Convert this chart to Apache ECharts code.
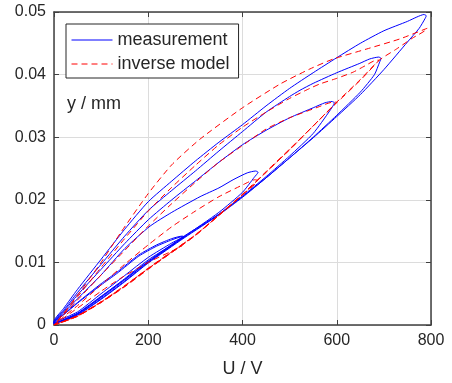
<!DOCTYPE html>
<html>
<head>
<meta charset="utf-8">
<script src="https://cdn.jsdelivr.net/npm/echarts@6/dist/echarts.min.js"></script>
<style>
html, body { margin: 0; padding: 0; background: #fff; }
#chart { width: 452px; height: 383px; }
</style>
</head>
<body>
<div id="chart"></div>
<script>
// axis ticks
var xTicks = [0, 200, 400, 600, 800];
var yTicks = [0, 0.01, 0.02, 0.03, 0.04, 0.05];

// measurement loops: [U, y], ascending then descending
var measUp800 = [[0,0.0003],[25,0.0008],[50,0.0018],[100,0.0044],[150,0.0072],[200,0.0102],[276,0.0142],[350,0.0177],[400,0.0205],[450,0.0235],[500,0.0267],[550,0.0299],[600,0.0333],[650,0.0368],[700,0.0408],[750,0.0452],[775,0.0474],[787,0.0489],[790,0.0494]];
var measDown800 = [[785,0.0496],[770,0.0492],[750,0.0485],[700,0.0470],[650,0.0450],[600,0.0427],[550,0.0403],[500,0.0378],[450,0.0350],[400,0.0320],[350,0.0292],[300,0.0262],[250,0.0230],[200,0.0197],[150,0.0153],[100,0.0105],[50,0.0057],[20,0.0026],[0,0.0006]];
var measUp700 = [[0,0.0002],[50,0.0016],[100,0.0041],[150,0.0069],[200,0.0099],[276,0.0139],[350,0.0176],[400,0.0204],[450,0.0235],[500,0.0267],[550,0.0300],[600,0.0335],[650,0.0372],[680,0.0400],[691,0.0420],[694,0.0426]];
var measDown700 = [[689,0.0428],[670,0.0425],[649,0.0418],[600,0.0403],[550,0.0386],[522,0.0375],[500,0.0365],[450,0.0340],[400,0.0309],[350,0.0278],[300,0.0246],[250,0.0215],[200,0.0183],[150,0.0142],[100,0.0097],[50,0.0052],[20,0.0023],[0,0.0005]];
var measUp600 = [[0,0.0002],[50,0.0017],[100,0.0042],[150,0.0070],[200,0.0100],[276,0.0140],[350,0.0177],[400,0.0206],[450,0.0237],[500,0.0270],[550,0.0306],[585,0.0342],[595,0.0355]];
var measDown600 = [[590,0.0357],[575,0.0355],[550,0.0347],[500,0.0331],[450,0.0311],[400,0.0288],[350,0.0260],[300,0.0230],[250,0.0200],[200,0.0168],[150,0.0130],[100,0.0089],[50,0.0048],[20,0.0021],[0,0.0004]];
var measUp440 = [[0,0.0002],[50,0.0019],[100,0.0046],[150,0.0073],[200,0.0101],[276,0.0141],[350,0.0180],[400,0.0212],[425,0.0236],[433,0.0244]];
var measDown440 = [[428,0.0246],[410,0.0243],[380,0.0232],[350,0.0219],[310,0.0205],[250,0.0180],[204,0.0158],[150,0.0122],[100,0.0080],[50,0.0042],[20,0.0019],[0,0.0004]];
var measUp280a = [[0,0.0002],[50,0.0018],[100,0.0045],[150,0.0074],[200,0.0104],[250,0.0128],[270,0.0138],[276,0.0141]];
var measDown280a = [[272,0.0142],[250,0.0138],[218,0.0128],[180,0.0112],[133,0.0084],[100,0.0066],[50,0.0036],[20,0.0017],[0,0.0004]];
var measUp280b = [[0,0.0003],[50,0.0021],[100,0.0050],[150,0.0079],[200,0.0108],[250,0.0131],[270,0.0139],[276,0.0141]];
var measDown280b = [[272,0.0141],[250,0.0136],[218,0.0126],[180,0.0110],[133,0.0082],[100,0.0064],[50,0.0035],[20,0.0016],[0,0.0004]];

// inverse model loops
var modelUp800 = [[0,0],[50,0.0014],[100,0.0036],[150,0.0062],[200,0.0090],[250,0.0116],[300,0.0143],[350,0.0175],[400,0.0208],[450,0.0244],[500,0.0280],[550,0.0318],[600,0.0356],[650,0.0392],[690,0.0423],[727,0.0441],[760,0.0458],[792,0.0474]];
var modelDown800 = [[792,0.0475],[734,0.0457],[664,0.0441],[593,0.0425],[543,0.0409],[480,0.0385],[400,0.0347],[310,0.0297],[250,0.0256],[200,0.0210],[141,0.0147],[100,0.0100],[50,0.0048],[20,0.0018],[0,0]];
var modelUp700 = [[0,0],[50,0.0014],[100,0.0037],[150,0.0062],[200,0.0090],[250,0.0117],[300,0.0144],[350,0.0175],[400,0.0208],[450,0.0244],[500,0.0280],[550,0.0318],[600,0.0355],[650,0.0391],[690,0.0423]];
var modelDown700 = [[684,0.0423],[660,0.0414],[635,0.0404],[600,0.0394],[564,0.0385],[543,0.0378],[500,0.0362],[450,0.0340],[400,0.0316],[350,0.0288],[300,0.0255],[250,0.0220],[200,0.0182],[150,0.0138],[100,0.0092],[50,0.0045],[20,0.0018],[0,0]];
var modelUp600 = [[0,0],[50,0.0015],[100,0.0036],[150,0.0061],[200,0.0089],[250,0.0116],[300,0.0143],[350,0.0176],[400,0.0209],[450,0.0245],[500,0.0281],[550,0.0318],[600,0.0356]];
var modelDown600 = [[592,0.0356],[560,0.0348],[500,0.0331],[450,0.0313],[408,0.0291],[350,0.0260],[300,0.0228],[250,0.0194],[200,0.0158],[150,0.0119],[100,0.0080],[50,0.0040],[20,0.0016],[0,0]];
var modelUp440 = [[0,0],[50,0.0014],[100,0.0037],[150,0.0063],[200,0.0090],[250,0.0117],[300,0.0144],[350,0.0176],[400,0.0208],[432,0.0231]];
var modelDown440 = [[426,0.0232],[401,0.0224],[350,0.0205],[300,0.0182],[250,0.0157],[200,0.0128],[150,0.0097],[100,0.0064],[50,0.0031],[20,0.0013],[0,0]];
var modelUp280 = [[0,0],[50,0.0015],[100,0.0037],[150,0.0062],[200,0.0091],[250,0.0117],[272,0.0127]];
var modelDown280 = [[266,0.0124],[250,0.0118],[200,0.0100],[140,0.0074],[100,0.0054],[50,0.0027],[20,0.0011],[0,0]];

var measurement = [].concat(measUp800, measDown800, measUp700, measDown700, measUp600, measDown600,
  measUp440, measDown440, measUp280a, measDown280a, measUp280b, measDown280b);
var model = [].concat(modelUp800, modelDown800, modelUp700, modelDown700, modelUp600, modelDown600,
  modelUp440, modelDown440, modelUp280, modelDown280);

var font = "'Liberation Sans', Arial, Helvetica, sans-serif";
var ink = '#262626';

var chart = echarts.init(document.getElementById('chart'));
var axisCommon = {
  type: 'value',
  axisLine: { show: true, onZero: false, lineStyle: { color: '#404040', width: 1.5 } },
  axisTick: { show: true, inside: true, length: 5, lineStyle: { color: '#404040' } }
};
var option = {
  animation: false,
  backgroundColor: '#fff',
  grid: { left: 54, right: 21, top: 12, bottom: 58 },
  legend: {
    orient: 'vertical',
    left: 66,
    top: 24,
    padding: [7, 9, 5, 5],
    itemWidth: 41,
    itemHeight: 14,
    itemGap: 6,
    backgroundColor: '#fff',
    borderColor: ink,
    borderWidth: 1,
    itemStyle: { color: 'rgba(0,0,0,0)', borderWidth: 0, opacity: 0 },
    lineStyle: { width: 1 },
    textStyle: { fontSize: 18, color: ink, fontFamily: font },
    data: ['measurement', 'inverse model']
  },
  graphic: [{
    type: 'text',
    left: 67,
    top: 95,
    style: { text: 'y / mm', fontSize: 18, fill: ink, fontFamily: font }
  }],
  xAxis: [
    Object.assign({}, axisCommon, {
      min: xTicks[0], max: xTicks[xTicks.length - 1], interval: 200,
      position: 'bottom',
      name: 'U / V', nameLocation: 'middle', nameGap: 35,
      nameTextStyle: { fontSize: 18, color: ink, fontFamily: font },
      axisLabel: { fontSize: 16, color: ink, fontFamily: font, margin: 8 },
      splitLine: { show: true, lineStyle: { color: '#dcdcdc', width: 1 } }
    }),
    Object.assign({}, axisCommon, {
      min: xTicks[0], max: xTicks[xTicks.length - 1], interval: 200,
      position: 'top',
      axisLabel: { show: false },
      splitLine: { show: false }
    })
  ],
  yAxis: [
    Object.assign({}, axisCommon, {
      min: yTicks[0], max: yTicks[yTicks.length - 1], interval: 0.01,
      position: 'left',
      axisLabel: {
        fontSize: 16, color: ink, fontFamily: font, margin: 8,
        formatter: function (v) { return v === 0 ? '0' : v.toFixed(2); }
      },
      splitLine: { show: true, lineStyle: { color: '#dcdcdc', width: 1 } }
    }),
    Object.assign({}, axisCommon, {
      min: yTicks[0], max: yTicks[yTicks.length - 1], interval: 0.01,
      position: 'right',
      axisLabel: { show: false },
      splitLine: { show: false }
    })
  ],
  series: [
    {
      name: 'measurement',
      type: 'line',
      data: measurement,
      symbol: 'none',
      smooth: 0.2,
      lineStyle: { color: '#0000ff', width: 1 },
      itemStyle: { color: '#0000ff' },
      z: 3
    },
    {
      name: 'inverse model',
      type: 'line',
      data: model,
      symbol: 'none',
      smooth: 0.2,
      lineStyle: { color: '#ff0000', width: 1, type: [6, 4] },
      itemStyle: { color: '#ff0000' },
      z: 4
    }
  ]
};
chart.setOption(option);
</script>
</body>
</html>
